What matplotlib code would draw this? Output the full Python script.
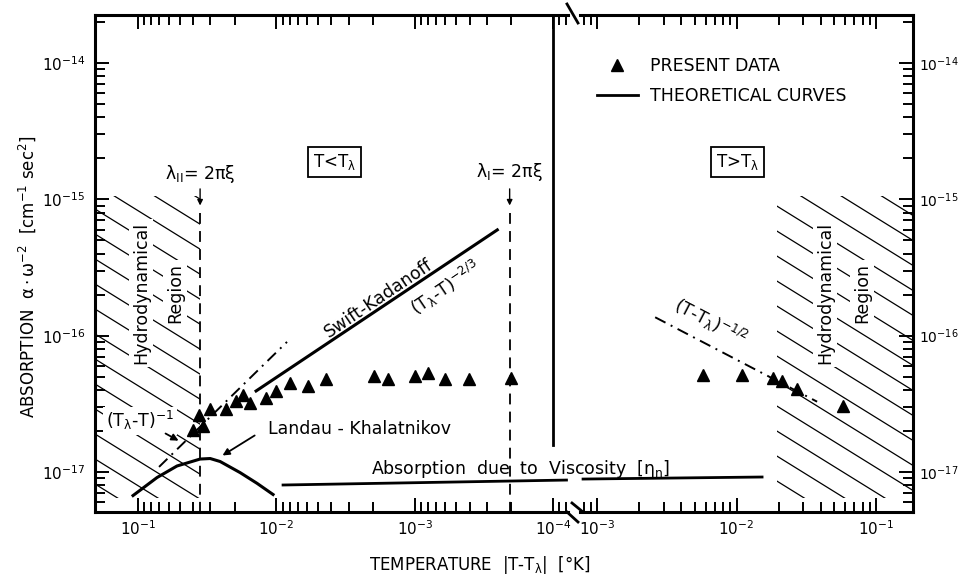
import numpy as np
import matplotlib
matplotlib.use('Agg')
import matplotlib.pyplot as plt
from matplotlib.lines import Line2D
from matplotlib.patches import Rectangle
from matplotlib.ticker import FixedLocator, LogLocator, NullFormatter

plt.rcParams['font.family'] = ['DejaVu Sans']
plt.rcParams['mathtext.default'] = 'regular'

#############################################################################################
# data read off the figure : |T - T_lambda| in K, absorption alpha/omega^2 in cm^-1 sec^2

# T < T_lambda, present data
below_dT = [0.0400, 0.0339, 0.0362, 0.0301, 0.0231, 0.0196, 0.0174, 0.0155, 0.01186, 0.01004,
            0.00796, 0.00590, 0.00437, 0.00197, 0.00156, 0.000993, 0.000800, 0.000603, 0.000405, 0.000201]
below_abs = [2.03e-17, 2.18e-17, 2.62e-17, 2.90e-17, 2.90e-17, 3.32e-17, 3.67e-17, 3.21e-17, 3.49e-17, 3.93e-17,
             4.50e-17, 4.28e-17, 4.81e-17, 5.06e-17, 4.81e-17, 5.06e-17, 5.33e-17, 4.81e-17, 4.81e-17, 4.89e-17]

# T > T_lambda, present data
above_dT = [0.00578, 0.01089, 0.01815, 0.0211, 0.0270, 0.0583]
above_abs = [5.15e-17, 5.15e-17, 4.87e-17, 4.65e-17, 4.04e-17, 3.05e-17]

# theoretical curves
sk_dT = [0.01402, 2.53e-4]            # Swift-Kadanoff (T_l - T)^-2/3
sk_abs = [3.93e-17, 5.97e-16]
inv_dT = [0.0705, 0.00838]            # (T_l - T)^-1
inv_abs = [1.09e-17, 9.0e-17]
half_dT = [0.00261, 0.0378]           # (T - T_l)^-1/2
half_abs = [1.365e-16, 3.28e-17]
lk_dT = [0.1087, 0.0729, 0.0523, 0.0356, 0.0301, 0.0255, 0.01829, 0.0138, 0.01057]   # Landau-Khalatnikov
lk_abs = [6.72e-18, 9.11e-18, 1.107e-17, 1.245e-17, 1.256e-17, 1.194e-17, 9.9e-18, 8.26e-18, 6.84e-18]
visc_below_dT = [0.00895, 8.0e-5]     # viscosity eta_n
visc_below_abs = [8.03e-18, 8.73e-18]
visc_above_dT = [7.94e-4, 0.01524]
visc_above_abs = [8.88e-18, 9.19e-18]

lam2_dT = 0.0356      # lambda_II = 2 pi xi
lam1_dT = 2.06e-4     # lambda_I = 2 pi xi
hydro_above_start = 0.0195
hydro_abs = [6.5e-18, 1.05e-15]

xlim_below = (0.2047, 7.8e-5)
xlim_above = (7.55e-4, 0.184)
ylim = (5.09e-18, 2.25e-14)
xticks_below = [1e-1, 1e-2, 1e-3, 1e-4]
xticks_above = [1e-3, 1e-2, 1e-1]
yticks = [1e-17, 1e-16, 1e-15, 1e-14]

#############################################################################################

W, H = 961, 582
fig = plt.figure(figsize=(W / 100, H / 100), dpi=100)
ax1 = fig.add_axes([95 / W, 1 - 512 / H, (568 - 95) / W, (512 - 15) / H])
ax2 = fig.add_axes([580 / W, 1 - 512 / H, (913 - 580) / W, (512 - 15) / H])

for ax, xt in ((ax1, xticks_below), (ax2, xticks_above)):
	ax.set_xscale('log')
	ax.set_yscale('log')
	ax.set_ylim(ylim)
	ax.patch.set_visible(False)
	ax.xaxis.set_major_locator(FixedLocator(xt))
	ax.yaxis.set_major_locator(FixedLocator(yticks))
	for axis in (ax.xaxis, ax.yaxis):
		axis.set_minor_locator(LogLocator(base=10, subs=np.arange(2, 10), numticks=40))
		axis.set_minor_formatter(NullFormatter())
	ax.tick_params(which='both', direction='in', width=1.4, labelsize=11, top=True)
	ax.tick_params(which='major', length=10)
	ax.tick_params(which='minor', length=7)
	ax.tick_params(axis='x', pad=5)
	for s in ax.spines.values():
		s.set_linewidth(2.2)

ax1.set_xlim(xlim_below)
ax2.set_xlim(xlim_above)
ax1.spines['right'].set_visible(False)
ax2.spines['left'].set_visible(False)
ax1.tick_params(axis='y', which='both', right=False, pad=7)
ax2.tick_params(axis='y', which='both', left=False, right=True, labelleft=False, labelright=True,
                pad=4, labelsize=10)


def hatch_region(ax, x0, x1, y0, y1, slope_px=-0.62, gap_px=25):
	box = Rectangle((x0, y0), x1 - x0, y1 - y0, fill=False, lw=0)
	ax.add_patch(box)
	bb = ax.get_position()
	w_px, h_px = bb.width * W, bb.height * H
	slope = slope_px * w_px / h_px
	gap = gap_px / h_px
	for c in np.arange(-1.0, 2.5, gap):
		ln, = ax.plot([0, 1], [c, c + slope], transform=ax.transAxes, color='black', lw=0.9)
		ln.set_clip_path(box)


hatch_region(ax1, xlim_below[0], lam2_dT, hydro_abs[0], hydro_abs[1])
hatch_region(ax2, hydro_above_start, xlim_above[1], hydro_abs[0], hydro_abs[1])

# measurements
ax1.plot(below_dT, below_abs, ls='none', marker='^', ms=8.5, color='black')
ax2.plot(above_dT, above_abs, ls='none', marker='^', ms=8.5, color='black')

# theory
ax1.plot(sk_dT, sk_abs, color='black', lw=2.2)
ax1.plot(inv_dT, inv_abs, color='black', lw=1.4, dashes=(6, 3, 1, 3))
ax1.plot(lk_dT, lk_abs, color='black', lw=2.2)
ax1.plot(visc_below_dT, visc_below_abs, color='black', lw=2.0)
ax2.plot(visc_above_dT, visc_above_abs, color='black', lw=2.0)
ax2.plot(half_dT, half_abs, color='black', lw=1.4, dashes=(6, 3, 1, 3))

# lambda = 2 pi xi markers
for lam in (lam2_dT, lam1_dT):
	ax1.plot([lam, lam], [8.0e-16, ylim[0]], color='black', lw=1.3, dashes=(6, 4))
	ax1.annotate('', xy=(lam, 8.6e-16), xytext=(lam, 1.25e-15),
	             arrowprops=dict(arrowstyle='-|>', color='black', lw=1.0, mutation_scale=8))
ax1.text(lam2_dT, 1.53e-15, r'$\lambda_{II}$= 2$\pi\xi$', ha='center', va='center', fontsize=12.5)
ax1.text(lam1_dT, 1.6e-15, r'$\lambda_{I}$= 2$\pi\xi$', ha='center', va='center', fontsize=12.5)

ax1.plot([1e-4, 1e-4], [1.58e-17, ylim[1]], color='black', lw=2.0)

# annotations
box = dict(boxstyle='square,pad=0.3', fc='white', ec='black', lw=1.3)
clear = dict(boxstyle='square,pad=0.15', fc='white', ec='none')
ax1.text(3.83e-3, 1.88e-15, r'T<T$_\lambda$', ha='center', va='center', fontsize=12, bbox=box)
ax2.text(1.01e-2, 1.88e-15, r'T>T$_\lambda$', ha='center', va='center', fontsize=12, bbox=box)

for ax, xa, xb in ((ax1, 0.0951, 0.054), (ax2, 0.0431, 0.0794)):
	ax.text(xa, 2.06e-16, 'Hydrodynamical', rotation=90, ha='center', va='center', fontsize=12.5, bbox=clear)
	ax.text(xb, 2.06e-16, 'Region', rotation=90, ha='center', va='center', fontsize=12.5, bbox=clear)

ax1.text(1.84e-3, 1.89e-16, 'Swift-Kadanoff', rotation=34, rotation_mode='anchor',
         ha='center', va='center', fontsize=12.5)
ax1.text(5.93e-4, 2.24e-16, r'$(T_\lambda$-T)$^{-2/3}$', rotation=34, rotation_mode='anchor',
         ha='center', va='center', fontsize=12.5)
ax2.text(6.46e-3, 1.26e-16, r'(T-T$_\lambda)^{-1/2}$', rotation=-27.5, rotation_mode='anchor',
         ha='center', va='center', fontsize=12.5)

ax1.text(0.0967, 2.37e-17, r'$(T_\lambda$-T)$^{-1}$', ha='center', va='center', fontsize=12.5, bbox=clear)
ax1.annotate('', xy=(0.0489, 1.66e-17), xytext=(0.0659, 1.96e-17),
             arrowprops=dict(arrowstyle='-|>', color='black', lw=1.3, mutation_scale=10))
ax1.text(2.52e-3, 2.07e-17, 'Landau - Khalatnikov', ha='center', va='center', fontsize=12.5)
ax1.annotate('', xy=(0.0255, 1.29e-17), xytext=(0.0138, 1.90e-17),
             arrowprops=dict(arrowstyle='-|>', color='black', lw=1.3, mutation_scale=10))
ax1.text(1.73e-4, 1.05e-17, r'Absorption  due  to  Viscosity  [$\eta_n$]', ha='center', va='center',
         fontsize=12.5, clip_on=False)

# legend
h_data = Line2D([], [], ls='none', marker='^', ms=8.5, color='black')
h_theo = Line2D([], [], ls='-', lw=2.0, color='black')
ax2.legend([h_data, h_theo], ['PRESENT DATA', 'THEORETICAL CURVES'], loc='upper left',
           bbox_to_anchor=(0.05, 0.915), frameon=False, fontsize=12.5, handlelength=2.4,
           handletextpad=0.7, labelspacing=0.7, borderpad=0, borderaxespad=0)

# axis labels
fig.text(27 / W, 1 - 277 / H, r'ABSORPTION  $\alpha\cdot\omega^{-2}$  [cm$^{-1}$ sec$^2$]',
         rotation=90, ha='center', va='center', fontsize=12)
fig.text(480 / W, 1 - 565 / H, r'TEMPERATURE  |T-T$_\lambda$|  [°K]', ha='center', va='center', fontsize=12)

# axis break marks
def break_line(xs, ys):
	fig.add_artist(Line2D(np.array(xs) / W, 1 - np.array(ys) / H, transform=fig.transFigure,
	                      color='black', lw=2.0))

break_line([567, 578], [4, 23])
break_line([567, 578], [512, 522])
break_line([572, 583], [503, 512])

plt.savefig('out.png', dpi=100)
